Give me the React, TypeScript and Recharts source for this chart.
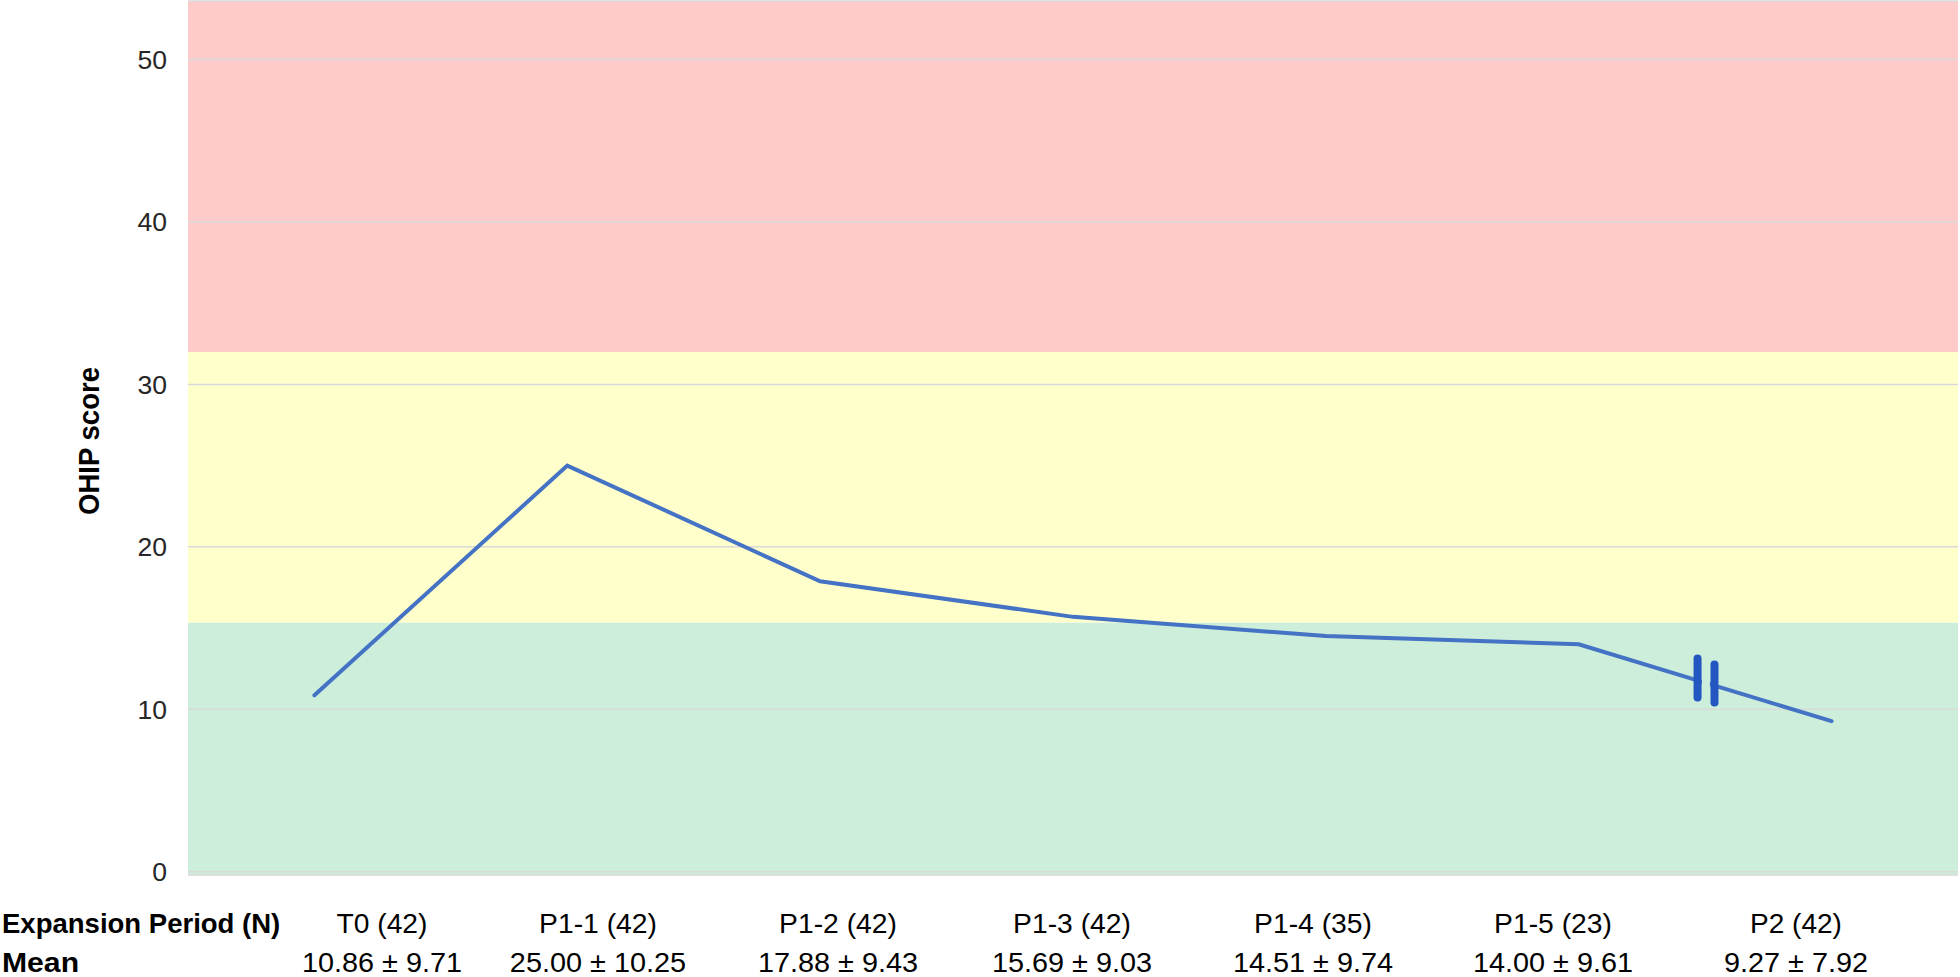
import React from 'react';
import { LineChart, Line, XAxis, YAxis, CartesianGrid, ReferenceArea, ReferenceLine } from 'recharts';

// ---------- data ----------
const categories = ['T0 (42)', 'P1-1 (42)', 'P1-2 (42)', 'P1-3 (42)', 'P1-4 (35)', 'P1-5 (23)', 'P2 (42)'];
const meanValues = [10.86, 25.0, 17.88, 15.69, 14.51, 14.0, 9.27];
const sdValues = [9.71, 10.25, 9.43, 9.03, 9.74, 9.61, 7.92];
const yTicks = [0, 10, 20, 30, 40, 50];
const yDomain: [number, number] = [-0.2, 53.6];
const bandEdges = [-0.2, 15.35, 32, 53.6];
const rowHeaders = ['Expansion Period (N)', 'Mean'];
const yAxisTitle = 'OHIP score';
// axis-break marker drawn on the P1-5 -> P2 segment (x in category-index units, y in score units)
const breakMarks = [
  { x: 5.47, y1: 13.13, y2: 10.73 },
  { x: 5.537, y1: 12.76, y2: 10.42 },
];
const breakGap = { x: 5.503, y1: 12.3, y2: 11.0 };

const data = categories.map((c, i) => ({ idx: i, category: c, mean: meanValues[i] }));
const meanLabels = meanValues.map((m, i) => `${m.toFixed(2)} \u00B1 ${sdValues[i].toFixed(2)}`);

// ---------- styles ----------
const W = 1960;
const H = 977;
const CHART_H = 886;
const bandColors = ['#CCEEDB', '#FFFFCC', '#FFCACA'];
const lineColor = '#4472C4';
const breakColor = '#2456C2';
const gridColor = '#d9d9d9';
const colCenters = [382, 598, 838, 1072, 1313, 1553, 1796];
const row1Y = 933;
const row2Y = 972;
const tableFont = "'Liberation Sans Narrow', 'Liberation Sans', Arial, sans-serif";

// Calibri-like advance widths (em) to size the condensed text
const CAL_REG: Record<string, number> = {
  '0': 0.507, '1': 0.507, '2': 0.507, '3': 0.507, '4': 0.507, '5': 0.507, '6': 0.507, '7': 0.507, '8': 0.507, '9': 0.507,
  '.': 0.252, ' ': 0.226, '\u00B1': 0.498, '(': 0.303, ')': 0.303, '-': 0.306, P: 0.517, T: 0.487,
};
const CAL_BOLD: Record<string, number> = {
  E: 0.488, x: 0.474, p: 0.537, a: 0.494, n: 0.537, s: 0.399, i: 0.246, o: 0.538, ' ': 0.226, P: 0.532,
  e: 0.503, r: 0.355, d: 0.537, '(': 0.312, N: 0.659, ')': 0.312, M: 0.874, O: 0.676, H: 0.631, I: 0.267, c: 0.418,
};
const calWidth = (s: string, table: Record<string, number>, size = 32) =>
  s.split('').reduce((acc, ch) => acc + (table[ch] ?? 0.5), 0) * size;

export default function App() {
  const bands = bandColors.map((color, i) => ({ y1: bandEdges[i], y2: bandEdges[i + 1], color }));
  return (
    <div style={{ position: 'absolute', left: 0, top: 0, width: W, height: H, background: '#ffffff', overflow: 'hidden' }}>
      <LineChart width={W} height={CHART_H} data={data} margin={{ top: 1, right: 2, bottom: 11, left: 0 }}>
        <XAxis type="number" dataKey="idx" domain={[-0.5, categories.length - 0.5]} hide allowDataOverflow />
        <YAxis
          type="number"
          domain={yDomain}
          ticks={yTicks}
          interval={0}
          allowDataOverflow
          width={188}
          axisLine={false}
          tickLine={false}
          tickSize={0}
          tickMargin={21}
          tick={{ fontFamily: "'Liberation Sans', Arial, sans-serif", fontSize: 26.5, fill: '#262626' }}
        />
        {bands.map((b, i) => (
          <ReferenceArea
            key={`band-${i}`}
            y1={b.y1}
            y2={b.y2}
            fill={b.color}
            fillOpacity={1}
            stroke="none"
            ifOverflow="visible"
            zIndex={-150}
          />
        ))}
        <CartesianGrid vertical={false} stroke={gridColor} strokeWidth={1.5} />
        <Line
          type="linear"
          dataKey="mean"
          stroke={lineColor}
          strokeWidth={4}
          strokeLinecap="round"
          dot={false}
          activeDot={false}
          isAnimationActive={false}
        />
        <ReferenceLine
          segment={[{ x: breakGap.x, y: breakGap.y1 }, { x: breakGap.x, y: breakGap.y2 }]}
          stroke={bandColors[0]}
          strokeWidth={8}
          ifOverflow="visible"
          zIndex={1500}
        />
        {breakMarks.map((m, i) => (
          <ReferenceLine
            key={`break-${i}`}
            segment={[{ x: m.x, y: m.y1 }, { x: m.x, y: m.y2 }]}
            stroke={breakColor}
            strokeWidth={8}
            strokeLinecap="round"
            ifOverflow="visible"
            zIndex={1600}
          />
        ))}
      </LineChart>
      <svg
        width={W}
        height={H}
        style={{ position: 'absolute', left: 0, top: 0, pointerEvents: 'none' }}
      >
        <text
          x={99}
          y={441}
          transform="rotate(-90 99 441)"
          textAnchor="middle"
          fontFamily={tableFont}
          fontWeight="bold"
          fontSize={30}
          fill="#000"
          textLength={148}
          lengthAdjust="spacingAndGlyphs"
        >
          {yAxisTitle}
        </text>
        <text
          x={2}
          y={row1Y}
          fontFamily={tableFont}
          fontWeight="bold"
          fontSize={28.5}
          fill="#000"
          textLength={calWidth(rowHeaders[0], CAL_BOLD)}
          lengthAdjust="spacingAndGlyphs"
        >
          {rowHeaders[0]}
        </text>
        <text
          x={2}
          y={row2Y}
          fontFamily={tableFont}
          fontWeight="bold"
          fontSize={28.5}
          fill="#000"
          textLength={calWidth(rowHeaders[1], CAL_BOLD)}
          lengthAdjust="spacingAndGlyphs"
        >
          {rowHeaders[1]}
        </text>
        {categories.map((c, i) => (
          <text
            key={`cat-${i}`}
            x={colCenters[i]}
            y={row1Y}
            textAnchor="middle"
            fontFamily={tableFont}
            fontSize={28.5}
            fill="#000"
            textLength={calWidth(c, CAL_REG)}
            lengthAdjust="spacingAndGlyphs"
          >
            {c}
          </text>
        ))}
        {meanLabels.map((m, i) => (
          <text
            key={`mean-${i}`}
            x={colCenters[i]}
            y={row2Y}
            textAnchor="middle"
            fontFamily={tableFont}
            fontSize={28.5}
            fill="#000"
            textLength={calWidth(m, CAL_REG)}
            lengthAdjust="spacingAndGlyphs"
          >
            {m}
          </text>
        ))}
      </svg>
    </div>
  );
}
